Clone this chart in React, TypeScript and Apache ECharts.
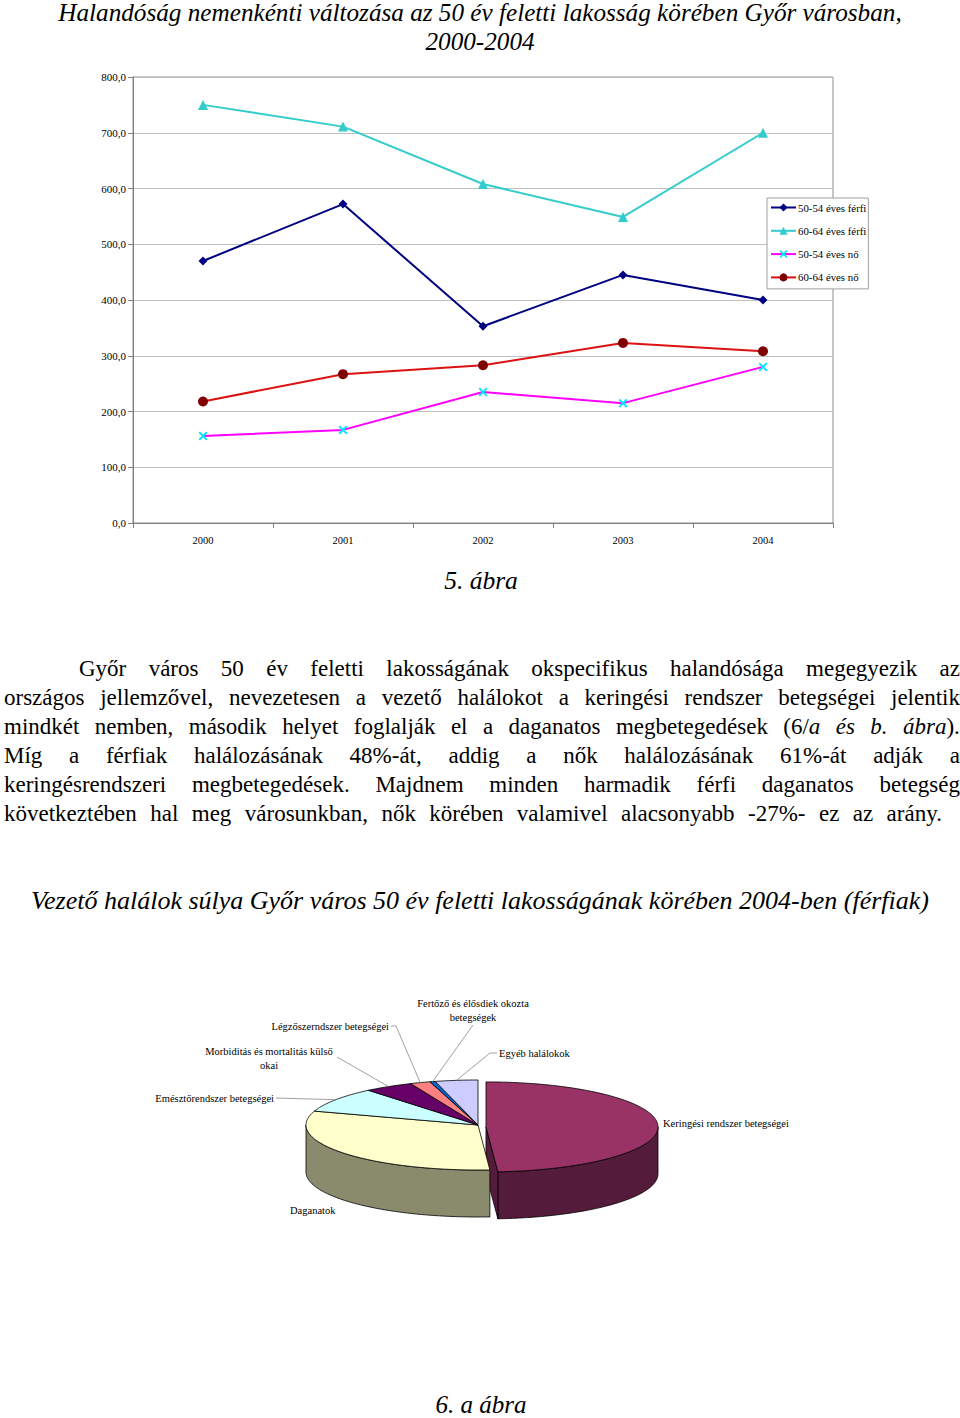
import React, { useEffect, useRef } from "react";
import * as echarts from "echarts";

const TIMES = "'Liberation Serif','Times New Roman',serif";

// ---- Line chart data ----
const years = ["2000", "2001", "2002", "2003", "2004"];
const seriesNames = ["50-54 éves férfi", "60-64 éves férfi", "50-54 éves nő", "60-64 éves nő"];
const male5054 = [470, 572, 353, 445, 400];
const male6064 = [750, 711, 608, 549, 700];
const female5054 = [156, 167, 235, 215, 280];
const female6064 = [218, 267, 283, 323, 308];
const yMin = 0;
const yMax = 800;
const yStep = 100;

// ---- Pie chart data (men, 2004, %) ----
const causes = [
  "Keringési rendszer betegségei",
  "Daganatok",
  "Emésztőrendszer betegségei",
  "Morbiditás és mortalitás külső\nokai",
  "Légzőszerndszer betegségei",
  "Fertőző és élősdiek okozta\nbetegségek",
  "Egyéb halálokok",
];
const shares = [48.9, 31.1, 9.0, 4.6, 1.9, 0.5, 4.0];
const exploded = [true, false, false, false, false, false, false];

// ---- styles / layout (not data) ----
const topColors = ["#993366", "#FFFFCC", "#CCFFFF", "#660066", "#FF8080", "#0066CC", "#CCCCFF"];
const sideColors = ["#551B3A", "#8A8A6C", "#668080", "#330033", "#804040", "#003366", "#666680"];
const labelLayout: { x: number; y: number; align: string; leader: number[][] }[] = [
  { x: 663, y: 1123, align: "left", leader: [] },
  { x: 290, y: 1210, align: "left", leader: [] },
  { x: 274, y: 1098, align: "right", leader: [[276, 1098]] },
  { x: 269, y: 1058, align: "center", leader: [[337, 1057]] },
  { x: 389, y: 1026, align: "right", leader: [[391, 1026], [396, 1026]] },
  { x: 473, y: 1010, align: "center", leader: [[473, 1025]] },
  { x: 499, y: 1053, align: "left", leader: [[497, 1053], [490, 1053]] },
];

const X_SYMBOL =
  "path://M0,1.5L1.5,0L5,3.5L8.5,0L10,1.5L6.5,5L10,8.5L8.5,10L5,6.5L1.5,10L0,8.5L3.5,5Z";

const paragraphLines = [
  "Győr város 50 év feletti lakosságának okspecifikus halandósága megegyezik az",
  "országos jellemzővel, nevezetesen a vezető halálokot a keringési rendszer betegségei jelentik",
  "mindkét nemben, második helyet foglalják el a daganatos megbetegedések (6/*a és b. ábra*).",
  "Míg a férfiak halálozásának 48%-át, addig a nők halálozásának 61%-át adják a",
  "keringésrendszeri megbetegedések. Majdnem minden harmadik férfi daganatos betegség",
  "következtében hal meg városunkban, nők körében valamivel alacsonyabb -27%- ez az arány.",
];

function renderWords(line: string) {
  let italic = false;
  return line.split(" ").map((word, wi) => {
    const parts: React.ReactNode[] = [];
    let buf = "";
    let k = 0;
    for (const ch of word) {
      if (ch === "*") {
        if (buf) parts.push(<span key={k++} style={{ fontStyle: italic ? "italic" : "normal" }}>{buf}</span>);
        buf = "";
        italic = !italic;
      } else buf += ch;
    }
    if (buf) parts.push(<span key={k++} style={{ fontStyle: italic ? "italic" : "normal" }}>{buf}</span>);
    return <span key={wi}>{parts}</span>;
  });
}

export default function App() {
  const ref = useRef<HTMLDivElement>(null);

  useEffect(() => {
    const chart = echarts.init(ref.current!, null, { renderer: "svg" });

    const total = shares.reduce((a, b) => a + b, 0);
    const starts: number[] = [];
    let acc = 0;
    shares.forEach((v) => {
      starts.push(acc);
      acc += v;
    });
    const CX = 478, CY = 1125, RX = 172, RY = 45, DEPTH = 47, EXPLODE = 10;
    const pt = (a: number, ox: number, oy: number, dz = 0) => {
      const r = (a * Math.PI) / 180;
      return [CX + ox + RX * Math.sin(r), CY + oy - RY * Math.cos(r) + dz];
    };
    const arc = (a0: number, a1: number, ox: number, oy: number, dz: number) => {
      const pts: number[][] = [];
      const n = Math.max(2, Math.ceil(Math.abs(a1 - a0)));
      for (let i = 0; i <= n; i++) pts.push(pt(a0 + ((a1 - a0) * i) / n, ox, oy, dz));
      return pts;
    };

    const renderItem = (params: any, api: any) => {
      const i = params.dataIndex;
      const a0 = (starts[i] / total) * 360;
      const a1 = a0 + (api.value(0) / total) * 360;
      const midDeg = (a0 + a1) / 2;
      const mid = (midDeg * Math.PI) / 180;
      const ex = exploded[i] ? EXPLODE : 0;
      const ox = ex * Math.sin(mid) - (ex ? 2 : 0);
      const oy = -ex * Math.cos(mid) * (RY / RX) + (ex ? 2 : 0);
      const c = [CX + ox, CY + oy];
      const children: any[] = [];
      const f0 = Math.max(a0, 90), f1 = Math.min(a1, 270);
      if (f1 > f0) {
        children.push({
          type: "polygon",
          z2: 1,
          shape: { points: arc(f0, f1, ox, oy, 0).concat(arc(f0, f1, ox, oy, DEPTH).reverse()) },
          style: { fill: sideColors[i], stroke: "#000", lineWidth: 0.8 },
        });
      }
      if (ex) {
        const p = pt(a1, ox, oy);
        children.push({
          type: "polygon",
          z2: 1,
          shape: { points: [c, p, [p[0], p[1] + DEPTH], [c[0], c[1] + DEPTH]] },
          style: { fill: sideColors[i], stroke: "#000", lineWidth: 0.8 },
        });
      }
      children.push({
        type: "polygon",
        z2: 2,
        shape: { points: [c].concat(arc(a0, a1, ox, oy, 0)) },
        style: { fill: topColors[i], stroke: "#000", lineWidth: 0.8 },
      });
      const lay = labelLayout[i];
      if (lay.leader.length) {
        children.push({
          type: "polyline",
          z2: 3,
          shape: { points: lay.leader.concat([pt(midDeg, ox, oy)]) },
          style: { stroke: "#888", lineWidth: 0.8, fill: "none" },
        });
      }
      children.push({
        type: "text",
        z2: 4,
        x: lay.x,
        y: lay.y,
        style: {
          text: causes[i],
          fill: "#000",
          font: `10.5px ${TIMES}`,
          lineHeight: 14,
          align: lay.align,
          verticalAlign: "middle",
        },
      });
      return { type: "group", children };
    };

    const axisGray = "#808080";
    chart.setOption({
      animation: false,
      backgroundColor: "#fff",
      grid: {
        left: 133,
        top: 77,
        width: 700,
        height: 446,
        show: true,
        borderColor: "#8c8c8c",
        borderWidth: 1,
        containLabel: false,
      },
      legend: {
        data: seriesNames,
        orient: "vertical",
        left: 767,
        top: 198,
        padding: [4, 2, 6, 3],
        itemGap: 12.3,
        itemWidth: 25,
        itemHeight: 10,
        backgroundColor: "#fff",
        borderColor: "#a0a0a0",
        borderWidth: 1,
        borderRadius: 0,
        textStyle: { fontFamily: TIMES, fontSize: 10.8, color: "#000", padding: [0, 0, 0, -3] },
      },
      xAxis: {
        type: "category",
        data: years,
        boundaryGap: true,
        axisLine: { lineStyle: { color: axisGray, width: 1 } },
        axisTick: { show: true, length: 5, interval: 0, lineStyle: { color: axisGray } },
        axisLabel: { fontFamily: TIMES, fontSize: 10.5, color: "#000", margin: 12 },
      },
      yAxis: {
        type: "value",
        min: yMin,
        max: yMax,
        interval: yStep,
        axisLine: { show: true, lineStyle: { color: axisGray, width: 1 } },
        axisTick: { show: true, length: 5, lineStyle: { color: axisGray } },
        splitLine: { lineStyle: { color: "#c0c0c0", width: 1 } },
        axisLabel: {
          fontFamily: TIMES,
          fontSize: 11,
          color: "#000",
          margin: 7,
          formatter: (v: number) => v.toFixed(1).replace(".", ","),
        },
      },
      series: [
        {
          name: seriesNames[0],
          type: "line",
          data: male5054,
          symbol: "diamond",
          symbolSize: 9,
          lineStyle: { color: "#000080", width: 2 },
          itemStyle: { color: "#000080" },
        },
        {
          name: seriesNames[1],
          type: "line",
          data: male6064,
          symbol: "triangle",
          symbolSize: 10,
          lineStyle: { color: "#33CCCC", width: 2 },
          itemStyle: { color: "#33CCCC" },
        },
        {
          name: seriesNames[2],
          type: "line",
          data: female5054,
          symbol: X_SYMBOL,
          symbolSize: 9,
          lineStyle: { color: "#FF00FF", width: 2 },
          itemStyle: { color: "#00E5FF" },
        },
        {
          name: seriesNames[3],
          type: "line",
          data: female6064,
          symbol: "circle",
          symbolSize: 10,
          lineStyle: { color: "#DD1111", width: 2 },
          itemStyle: { color: "#800000" },
        },
        {
          type: "custom",
          coordinateSystem: "none",
          data: shares,
          renderItem,
          silent: true,
        },
      ],
      graphic: [
        {
          type: "text",
          x: 480,
          y: 26.5,
          style: {
            text: "Halandóság nemenkénti változása az 50 év feletti lakosság körében Győr városban,\n2000-2004",
            font: `italic 25.2px ${TIMES}`,
            lineHeight: 29,
            fill: "#000",
            align: "center",
            verticalAlign: "middle",
          },
        },
        {
          type: "text",
          x: 481,
          y: 580,
          style: { text: "5. ábra", font: `italic 25.5px ${TIMES}`, fill: "#000", align: "center", verticalAlign: "middle" },
        },
        {
          type: "text",
          x: 480,
          y: 900,
          style: {
            text: "Vezető halálok súlya Győr város 50 év feletti lakosságának körében 2004-ben (férfiak)",
            font: `italic 26px ${TIMES}`,
            fill: "#000",
            align: "center",
            verticalAlign: "middle",
          },
        },
        {
          type: "text",
          x: 481,
          y: 1404,
          style: { text: "6. a ábra", font: `italic 25px ${TIMES}`, fill: "#000", align: "center", verticalAlign: "middle" },
        },
      ],
    });
    return () => chart.dispose();
  }, []);

  const lineStyleBase: React.CSSProperties = {
    height: 29,
    lineHeight: "29px",
    whiteSpace: "nowrap",
  };

  return (
    <div style={{ position: "absolute", left: 0, top: 0, width: 960, height: 1418, background: "#fff" }}>
      <div ref={ref} style={{ position: "absolute", left: 0, top: 0, width: 960, height: 1418 }} />
      <div
        style={{
          position: "absolute",
          left: 4,
          top: 654,
          width: 956,
          fontFamily: TIMES,
          fontSize: 23,
          color: "#000",
        }}
      >
        {paragraphLines.map((line, li) => (
          <div
            key={li}
            style={{
              ...lineStyleBase,
              display: "flex",
              justifyContent: "space-between",
              marginLeft: li === 0 ? 75 : 0,
              width: li === paragraphLines.length - 1 ? 938 : li === 0 ? 881 : 956,
            }}
          >
            {renderWords(line)}
          </div>
        ))}
      </div>
    </div>
  );
}
